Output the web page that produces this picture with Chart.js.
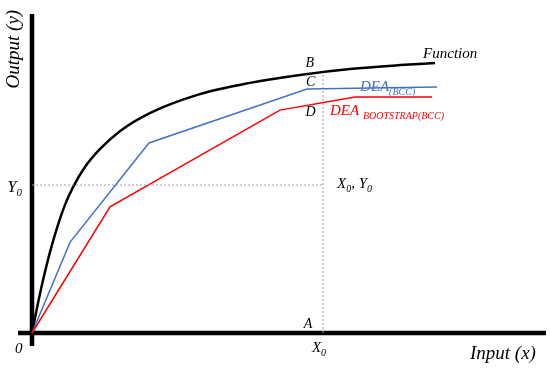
<!DOCTYPE html>
<html>
<head>
<meta charset="utf-8">
<script src="https://cdn.jsdelivr.net/npm/chart.js@4.4.1/dist/chart.umd.min.js"></script>
<style>
  html, body { margin: 0; padding: 0; background: #fff; }
  #wrap { width: 550px; height: 369px; position: relative; }
</style>
</head>
<body>
<div id="wrap"><canvas id="chart"></canvas></div>
<script>
'use strict';

// values in chart units: X0 = 10, Y0 = 5
const X0 = 10;
const Y0 = 5;

// production function (smooth)
const funcX = [0, 0.17, 0.38, 0.62, 0.86, 1.13, 1.41, 1.82, 2.34, 3.02, 4.05, 5.77, 7.49, 9.21, 10.93, 12.65, 13.85];
const funcY = [0, 0.84, 1.79, 2.74, 3.55, 4.32, 4.93, 5.61, 6.22, 6.82, 7.43, 8.07, 8.45, 8.72, 8.92, 9.05, 9.12];

// DEA (BCC) frontier
const bccX = [0, 1.31, 4.02, 9.45, 13.92];
const bccY = [0, 3.07, 6.42, 8.24, 8.31];

// DEA bootstrap (BCC) frontier
const bootX = [0, 2.68, 8.52, 11.10, 13.75];
const bootY = [0, 4.26, 7.53, 7.97, 7.97];

// axis extents
const xAxisFrom = -0.48;
const xAxisTo = 17.66;
const yAxisFrom = -0.44;
const yAxisTo = 10.78;
const bTop = 8.78;

const pts = (xs, ys) => xs.map((x, i) => ({x: x, y: ys[i]}));

const SERIF = '"Liberation Serif", "DejaVu Serif", serif';

// text labels, anchored at left / baseline in chart units
const labels = [
  {at: [15.05, -0.88], size: 19, parts: [['Input (x)']]},
  {at: [-0.58, -0.68], size: 15, parts: [['0']]},
  {at: [-0.84, 4.76], size: 16, parts: [['Y'], ['0', 1]]},
  {at: [9.62, -0.64], size: 15, parts: [['X'], ['0', 1]]},
  {at: [9.34, 0.17], size: 14, parts: [['A']]},
  {at: [9.40, 9.00], size: 14, parts: [['B']]},
  {at: [9.42, 8.34], size: 14, parts: [['C']]},
  {at: [9.40, 7.33], size: 14, parts: [['D']]},
  {at: [10.48, 4.90], size: 15, parts: [['X'], ['0', 1], [', '], ['Y'], ['0', 1]]},
  {at: [13.44, 9.29], size: 15, parts: [['Function']]},
  {at: [11.27, 8.18], size: 15, color: '#4472C4', parts: [['DEA'], ['(BCC)', 1]]},
  {at: [10.24, 7.36], size: 15, color: '#FF0000', parts: [['DEA '], ['BOOTSTRAP(BCC)', 1]]}
];

const textPlugin = {
  id: 'texts',
  afterDatasetsDraw(chart) {
    const ctx = chart.ctx;
    const sx = chart.scales.x;
    const sy = chart.scales.y;
    ctx.save();
    ctx.textBaseline = 'alphabetic';
    ctx.textAlign = 'left';
    for (const lb of labels) {
      let px = sx.getPixelForValue(lb.at[0]);
      const py = sy.getPixelForValue(lb.at[1]);
      ctx.fillStyle = lb.color || '#000';
      for (const p of lb.parts) {
        const sub = p[1] === 1;
        const size = sub ? Math.round(lb.size * 0.68) : lb.size;
        ctx.font = 'italic ' + size + 'px ' + SERIF;
        ctx.fillText(p[0], px, py + (sub ? lb.size * 0.25 : 0));
        px += ctx.measureText(p[0]).width;
      }
    }
    // vertical axis title
    ctx.translate(sx.getPixelForValue(-0.62), sy.getPixelForValue(9.59));
    ctx.rotate(-Math.PI / 2);
    ctx.font = 'italic 19px ' + SERIF;
    ctx.fillStyle = '#000';
    ctx.textAlign = 'center';
    ctx.textBaseline = 'middle';
    ctx.fillText('Output (y)', 0, 0);
    ctx.restore();
  }
};

const line = (data, color, width, extra) => Object.assign({
  data: data,
  showLine: true,
  borderColor: color,
  borderWidth: width,
  pointRadius: 0,
  fill: false,
  tension: 0
}, extra || {});

new Chart(document.getElementById('chart'), {
  type: 'scatter',
  data: {
    datasets: [
      line([{x: 0, y: Y0}, {x: X0, y: Y0}], '#9a9a9a', 1, {borderDash: [2, 2]}),
      line([{x: X0, y: 0}, {x: X0, y: bTop}], '#9a9a9a', 1, {borderDash: [2, 2]}),
      line(pts(bootX, bootY), '#FF0000', 1.5),
      line(pts(bccX, bccY), '#4472C4', 1.5),
      line(pts(funcX, funcY), '#000', 2.5, {cubicInterpolationMode: 'monotone'}),
      line([{x: xAxisFrom, y: 0}, {x: xAxisTo, y: 0}], '#000', 4.5),
      line([{x: 0, y: yAxisFrom}, {x: 0, y: yAxisTo}], '#000', 4.5)
    ]
  },
  options: {
    responsive: true,
    maintainAspectRatio: false,
    animation: false,
    layout: {padding: 0},
    plugins: {legend: {display: false}, tooltip: {enabled: false}},
    scales: {
      x: {type: 'linear', display: false, min: -32 / 29.1, max: 518 / 29.1},
      y: {type: 'linear', display: false, min: -36 / 29.6, max: 333 / 29.6}
    }
  },
  plugins: [textPlugin]
});
</script>
</body>
</html>
